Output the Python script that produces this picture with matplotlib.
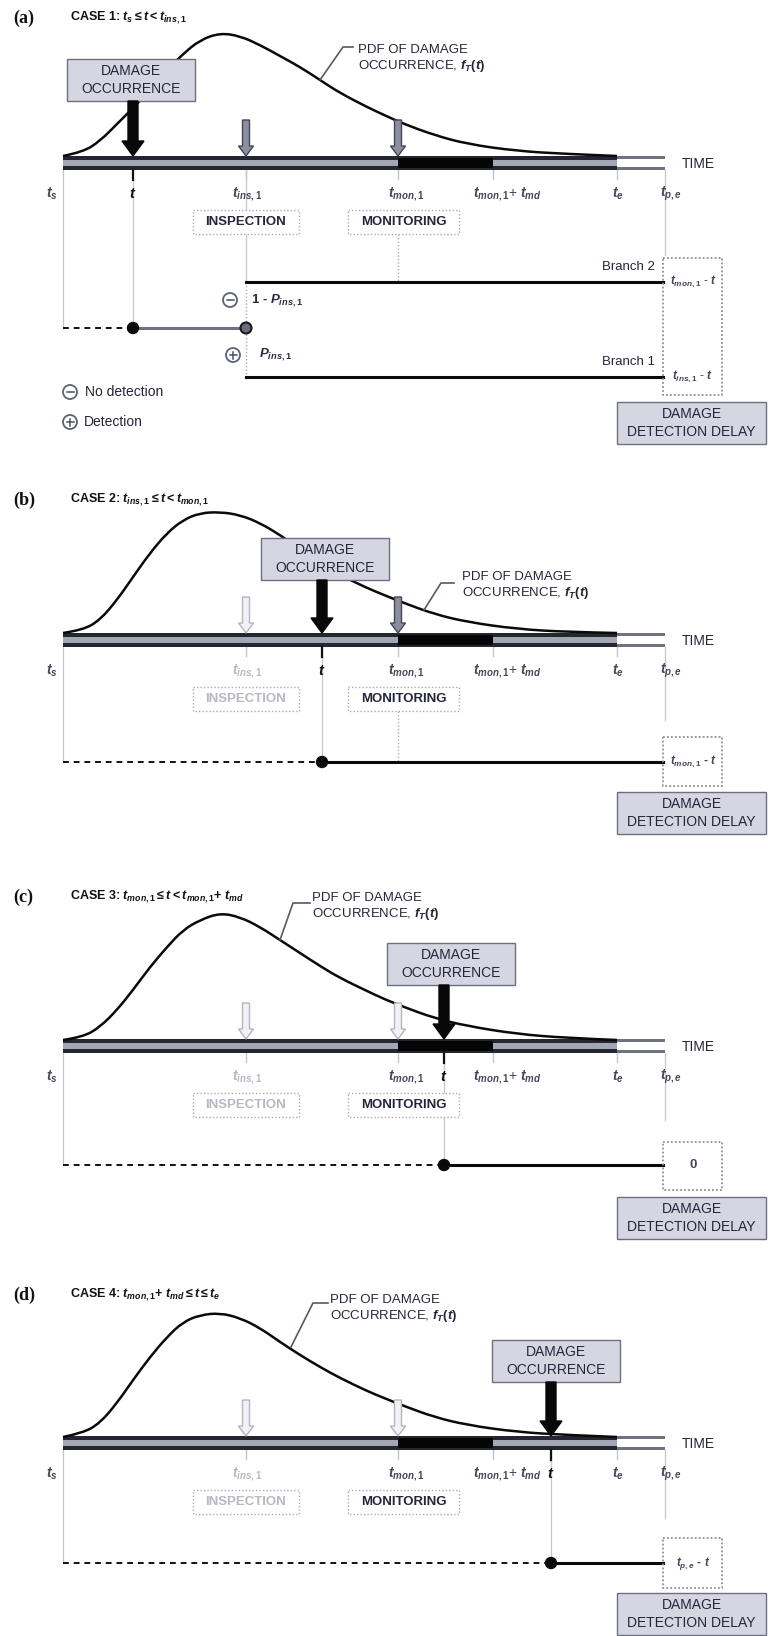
import numpy as np
import matplotlib.pyplot as plt
from matplotlib.patches import Rectangle, FancyArrow, Circle, PathPatch
from matplotlib.path import Path

plt.rcParams['font.family'] = ['Liberation Sans', 'DejaVu Sans']
plt.rcParams['mathtext.fontset'] = 'custom'
plt.rcParams['mathtext.it'] = 'Liberation Sans:italic:bold'
plt.rcParams['mathtext.rm'] = 'Liberation Sans:bold'
plt.rcParams['mathtext.bf'] = 'Liberation Sans:bold'
plt.rcParams['mathtext.fallback'] = 'stixsans'

######## DATA (pixel positions) ########

panel_tags = ['(a)', '(b)', '(c)', '(d)']
case_titles = ['CASE 1: $t_s \\leq t < t_{ins,1}$',
               'CASE 2: $t_{ins,1} \\leq t < t_{mon,1}$',
               'CASE 3: $t_{mon,1} \\leq t < t_{mon,1}$+ $t_{md}$',
               'CASE 4: $t_{mon,1}$+ $t_{md} \\leq t \\leq t_e$']
title_y = [18, 500, 897, 1295]

# time axis points: t_s, t_ins1, t_mon1, t_mon1+t_md, t_e, t_pe
time_x = [63, 246, 398, 493, 617, 665]
time_labels = ['$t_s$', '$t_{ins,1}$', '$t_{mon,1}$', '$t_{mon,1}$+ $t_{md}$', '$t_e$', '$t_{p,e}$']
label_x = [52, 247, 406, 507, 618, 671]

bar_y = [163, 640, 1046, 1443]     # centre of time bar
damage_t = [133, 322, 444, 551]     # where damage occurs
occ_box_x = [131, 325, 451, 556]    # centre of DAMAGE OCCURRENCE box
occ_box_top = [59, 538, 943, 1340]

# pdf curve samples
curve_x = [63, 83, 100, 117, 133, 150, 167, 183, 200, 220, 240, 260, 280,
           300, 320, 340, 367, 384, 404, 434, 467, 517, 567, 617]
curve_a = [156, 152, 141, 124, 108, 90, 70, 54, 40, 33, 36, 45, 56,
           67, 80, 93, 107, 115, 124, 135, 144, 151, 154, 156]
curve_b = [633, 630, 620, 600, 577, 553, 533, 520, 513, 512, 515, 523, 535,
           549, 563, 575, 588, 595, 603, 614, 622, 629, 632, 633]
curve_c = [1040, 1037, 1027, 1010, 990, 967, 947, 930, 920, 913, 917, 927, 940,
           953, 966, 978, 991, 999, 1007, 1018, 1026, 1034, 1038, 1040]
curve_d = [1437, 1433, 1423, 1403, 1380, 1357, 1337, 1322, 1315, 1313, 1318, 1328, 1342,
           1355, 1367, 1378, 1391, 1398, 1406, 1417, 1425, 1432, 1435, 1437]
curves = [curve_a, curve_b, curve_c, curve_d]

pdf_label_xy = [(358, 50), (462, 577), (312, 898), (330, 1300)]
pdf_leader = [[(353, 47), (343, 47), (320, 80)],
              [(454, 583), (441, 583), (424, 610)],
              [(310, 903), (293, 903), (280, 940)],
              [(328, 1303), (313, 1303), (291, 1347)]]

ins_faded = [False, True, True, True]
mon_faded = [False, False, True, True]

dot_y = [328, 762, 1165, 1563]
delay_box = [(258, 395), (737, 786), (1142, 1190), (1538, 1588)]
delay_text = [None, '$t_{mon,1}$ - $t$', '0', '$t_{p,e}$ - $t$']
ddd_top = [402, 792, 1197, 1593]
pe_line_end = [255, 720, 1120, 1518]

# case 1 branches
branch_y = [282, 377]
branch_names = ['Branch 2', 'Branch 1']
branch_delay = ['$t_{mon,1}$ - $t$', '$t_{ins,1}$ - $t$']

######## STYLE ########
DARK = '#25272f'
BARGRAY = '#a3a6b4'
BOXFILL = '#d5d6e2'
BOXEDGE = '#6d7080'
GUIDE = '#c4c5cd'
TXT = '#24263a'
LBL = '#44475a'
FADE = '#b7b8c3'

fig = plt.figure(figsize=(7.68, 16.36), dpi=100)
ax = fig.add_axes([0, 0, 1, 1])
ax.set_xlim(0, 768)
ax.set_ylim(1636, 0)
ax.axis('off')

x_s, x_ins, x_mon, x_md, x_e, x_pe = time_x


def smooth_curve(xs, ys):
    # quadratic bezier pieces through the midpoints of the sampled points
    pts = list(zip(xs, ys))
    verts = [pts[0]]
    codes = [Path.MOVETO]
    for k in range(1, len(pts) - 1):
        mid = ((pts[k][0] + pts[k + 1][0]) / 2, (pts[k][1] + pts[k + 1][1]) / 2)
        if k == len(pts) - 2:
            mid = pts[-1]
        verts += [pts[k], mid]
        codes += [Path.CURVE3, Path.CURVE3]
    ax.add_patch(PathPatch(Path(verts, codes), fc='none', ec='#0a0a0a', lw=1.8, zorder=3))


def down_arrow(x, y0, y1, w, hw, hl, fc, ec):
    ax.add_patch(FancyArrow(x, y0, 0, y1 - y0, width=w, head_width=hw, head_length=hl,
                            length_includes_head=True, fc=fc, ec=ec, lw=1, zorder=6))


def text_box(x0, y0, x1, y1, lines, fc=BOXFILL, ec=BOXEDGE, ls='-', color=TXT,
             weight='normal', size=10, lw=1.0):
    ax.add_patch(Rectangle((x0, y0), x1 - x0, y1 - y0, fc=fc, ec=ec, lw=lw, ls=ls, zorder=5))
    n = len(lines)
    h = (y1 - y0) / n
    for k, s in enumerate(lines):
        shift = 0
        if n > 1:
            shift = 1.5 if k == 0 else -1.5
        ax.text((x0 + x1) / 2, y0 + h * (k + 0.5) + shift, s, ha='center', va='center',
                fontsize=size, color=color, weight=weight, zorder=6)


def sign_circle(x, y, plus):
    ax.add_patch(Circle((x, y), 7, fc='white', ec='#5d6275', lw=1.3, zorder=6))
    ax.plot([x - 3.5, x + 3.5], [y, y], color='#4a4e60', lw=1.1, zorder=7)
    if plus:
        ax.plot([x, x], [y - 3.5, y + 3.5], color='#4a4e60', lw=1.1, zorder=7)


for i in range(4):
    yb = bar_y[i]
    t = damage_t[i]
    dy = dot_y[i]

    # panel tag + title
    ax.text(13, title_y[i], panel_tags[i], family='Liberation Serif', weight='bold',
            fontsize=13, va='center', ha='left', color='#111111')
    ax.text(70, title_y[i], case_titles[i], weight='bold', fontsize=9, va='center',
            ha='left', color='#111111')

    # time bar
    ax.add_patch(Rectangle((x_s, yb - 7), x_e - x_s, 14, fc=DARK, ec='none', zorder=2))
    ax.add_patch(Rectangle((x_s, yb - 3), x_e - x_s, 6, fc=BARGRAY, ec='none', zorder=2.1))
    ax.add_patch(Rectangle((x_mon, yb - 5), x_md - x_mon, 10, fc='#050505', ec='none', zorder=2.2))
    ax.add_patch(Rectangle((x_e, yb - 7), x_pe - x_e, 14, fc='#70737f', ec='none', zorder=2))
    ax.add_patch(Rectangle((x_e, yb - 4), x_pe - x_e, 8, fc='white', ec='none', zorder=2.1))
    ax.text(682, yb + 1, 'TIME', fontsize=10, va='center', ha='left', color=TXT)

    # pdf curve
    smooth_curve(curve_x, curves[i])
    lx, ly = pdf_label_xy[i]
    ax.text(lx, ly, 'PDF OF DAMAGE', fontsize=9.5, va='center', ha='left', color=TXT)
    ax.text(lx, ly + 16, 'OCCURRENCE, $f_T(t)$', fontsize=9.5, va='center', ha='left', color=TXT)
    ld = pdf_leader[i]
    ax.plot([p[0] for p in ld], [p[1] for p in ld], color='#55586a', lw=1.2, zorder=3)

    # guide lines and ticks under the bar
    for x in time_x[1:5]:
        ax.plot([x, x], [yb + 7, yb + 16], color=GUIDE, lw=1, zorder=1)
    ax.plot([x_s, x_s], [yb + 7, dy], color=GUIDE, lw=0.9, zorder=1)
    ax.plot([t, t], [yb + 7, dy], color=GUIDE, lw=0.9, zorder=1)
    ax.plot([t, t], [yb + 7, yb + 17], color='#111111', lw=1.6, zorder=3)
    ax.plot([x_pe, x_pe], [yb + 7, pe_line_end[i]], color=GUIDE, lw=0.9, zorder=1)

    # time labels
    for k, (lxk, s) in enumerate(zip(label_x, time_labels)):
        c = LBL
        if k == 1 and ins_faded[i]:
            c = FADE
        ax.text(lxk, yb + 31, s, fontsize=10, ha='center', va='center', color=c)
    ax.text(t, yb + 31, '$t$', fontsize=10.5, ha='center', va='center', color='#111111')

    # inspection / monitoring arrows
    for x, faded in ((x_ins, ins_faded[i]), (x_mon, mon_faded[i])):
        if faded:
            down_arrow(x, yb - 43, yb - 7, 7, 15, 10, '#f2f2f6', '#b3b5c1')
        else:
            down_arrow(x, yb - 43, yb - 7, 7, 15, 10, '#8c8e9c', '#44465a')

    # inspection / monitoring boxes
    c_ins = FADE if ins_faded[i] else TXT
    text_box(193, yb + 47, 299, yb + 71, ['INSPECTION'], fc='white', ec='#a9aab4',
             ls=(0, (1, 1.5)), color=c_ins, weight='bold', size=9.5)
    text_box(348, yb + 47, 459, yb + 71, ['MONITORING'], fc='white', ec='#a9aab4',
             ls=(0, (1, 1.5)), color=TXT, weight='bold', size=9.5)

    # damage occurrence box and arrow
    cx, top = occ_box_x[i], occ_box_top[i]
    text_box(cx - 64, top, cx + 64, top + 42, ['DAMAGE', 'OCCURRENCE'])
    down_arrow(t, top + 42, yb - 7, 10, 22, 15, '#080808', '#080808')

    # detection delay boxes
    y0, y1 = delay_box[i]
    ax.add_patch(Rectangle((663, y0), 59, y1 - y0, fc='none', ec='#8d8f9c', lw=1.3,
                           ls=(0, (1, 1.2)), zorder=4))
    text_box(617, ddd_top[i], 766, ddd_top[i] + 42, ['DAMAGE', 'DETECTION DELAY'])

    if i == 0:
        # case 1: two branches after inspection
        ax.plot([x_s, t], [dy, dy], color='#111111', lw=1.4, ls=(0, (3, 2.5)), zorder=3)
        ax.plot([t, x_ins], [dy, dy], color='#6f7283', lw=2.2, zorder=3)
        ax.add_patch(Circle((t, dy), 5.5, fc='#0a0a0a', ec='#0a0a0a', zorder=6))
        ax.add_patch(Circle((x_ins, dy), 5.5, fc='#6a6c78', ec='#1a1a1a', lw=1.5, zorder=6))
        ax.plot([x_ins, x_ins], [yb + 7, yb + 47], color=GUIDE, lw=0.9, zorder=1)
        ax.plot([x_ins, x_ins], [yb + 71, branch_y[0]], color=GUIDE, lw=0.9, zorder=1)
        ax.plot([x_ins, x_ins], [branch_y[0], branch_y[1]], color='#a8aab6', lw=1,
                ls=(0, (1, 1.5)), zorder=1)
        ax.plot([x_mon, x_mon], [yb + 71, branch_y[0]], color='#a8aab6', lw=1,
                ls=(0, (1, 1.5)), zorder=1)
        for by, bn, bd in zip(branch_y, branch_names, branch_delay):
            ax.plot([x_ins, 663], [by, by], color='#0a0a0a', lw=2.2, zorder=3)
            ax.text(655, by - 15, bn, fontsize=9.5, ha='right', va='center', color=TXT)
            ax.text(693, by, bd, fontsize=8.5, ha='center', va='center', color=LBL)
        sign_circle(230, 300, False)
        ax.text(251, 301, '$1$ - $P_{ins,1}$', fontsize=9.5, ha='left', va='center',
                color='#2b2e40', weight='bold')
        sign_circle(233, 355, True)
        ax.text(259, 355, '$P_{ins,1}$', fontsize=9.5, ha='left', va='center', color='#2b2e40')
        # legend
        sign_circle(70, 392, False)
        ax.text(85, 392, 'No detection', fontsize=10, ha='left', va='center', color=TXT)
        sign_circle(70, 422, True)
        ax.text(84, 422, 'Detection', fontsize=10, ha='left', va='center', color=TXT)
    else:
        ax.plot([x_s, t], [dy, dy], color='#111111', lw=1.4, ls=(0, (3, 2.5)), zorder=3)
        ax.plot([t, 663], [dy, dy], color='#0a0a0a', lw=2.2, zorder=3)
        ax.add_patch(Circle((t, dy), 5.5, fc='#0a0a0a', ec='#0a0a0a', zorder=6))
        if i == 1:
            ax.plot([x_mon, x_mon], [yb + 71, dy], color='#a8aab6', lw=1,
                    ls=(0, (1, 1.5)), zorder=1)
        ax.text(693, dy, delay_text[i], fontsize=8.5 if i != 2 else 9.5, ha='center',
                va='center', color=LBL, weight='bold')

fig.savefig('out.png', dpi=100)
